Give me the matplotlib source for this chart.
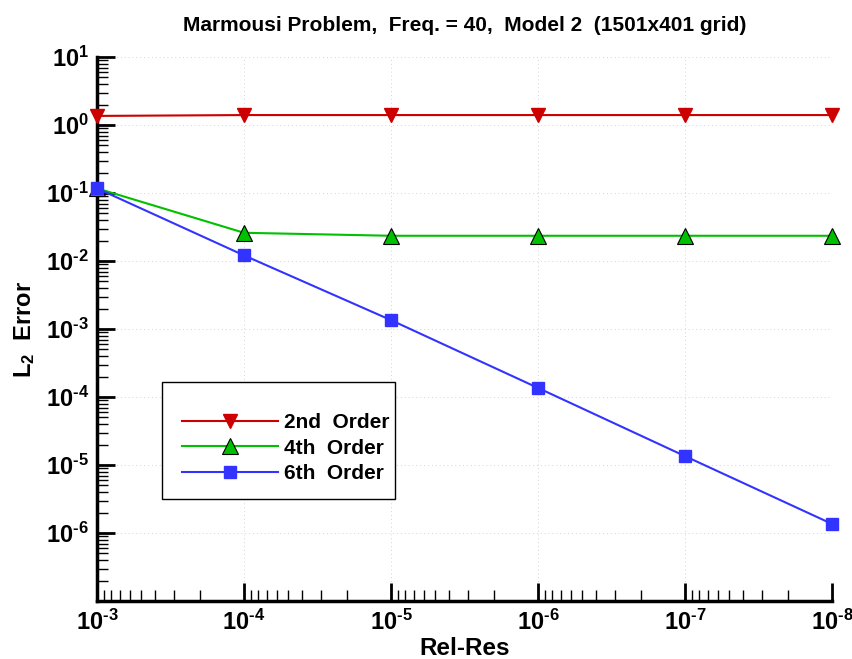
import matplotlib
matplotlib.use('Agg')
import matplotlib.pyplot as plt
import matplotlib.ticker as ticker
from matplotlib.patches import Rectangle
import numpy as np

plt.rcParams['font.family'] = ['Liberation Sans', 'DejaVu Sans']
plt.rcParams['font.weight'] = 'bold'
plt.rcParams['mathtext.fontset'] = 'custom'
plt.rcParams['mathtext.rm'] = 'Liberation Sans:bold'
plt.rcParams['mathtext.it'] = 'Liberation Sans:bold'
plt.rcParams['mathtext.bf'] = 'Liberation Sans:bold'

# Data
rel_res = [1e-3, 1e-4, 1e-5, 1e-6, 1e-7, 1e-8]
err_2nd = [1.36, 1.40, 1.40, 1.40, 1.40, 1.40]
err_4th = [0.117, 0.026, 0.0235, 0.0235, 0.0235, 0.0235]
err_6th = [0.117, 0.0121, 0.00135, 1.36e-4, 1.35e-5, 1.36e-6]
labels = ['2nd  Order', '4th  Order', '6th  Order']

fig = plt.figure(figsize=(8.52, 6.59), dpi=100)
ax = fig.add_axes([97/852, 1 - 601/659, 735/852, 544/659])

ax.plot(rel_res, err_2nd, '-', color='#cc0000', lw=1.5, marker='v', ms=10,
        mfc='#cc0000', mec='#cc0000', label=labels[0], clip_on=False, zorder=3)
ax.plot(rel_res, err_4th, '-', color='#00c000', lw=1.5, marker='^', ms=12,
        mfc='#00c000', mec='black', mew=0.8, label=labels[1], clip_on=False, zorder=3)
ax.plot(rel_res, err_6th, '-', color='#3333ff', lw=1.5, marker='s', ms=9,
        mfc='#3333ff', mec='#3333ff', label=labels[2], clip_on=False, zorder=3)

ax.set_xscale('log')
ax.set_yscale('log')
ax.set_xlim(1e-3, 1e-8)
ax.set_ylim(1e-7, 1e1)

def fmt(v, pos):
    e = int(round(np.log10(v)))
    if e < 0:
        return r'$\mathregular{10^{\text{-}%d}}$' % (-e)
    return r'$\mathregular{10^{%d}}$' % e

def yfmt(v, pos):
    if v < 5e-7:
        return ''
    return fmt(v, pos)

ax.xaxis.set_major_locator(ticker.LogLocator(base=10, numticks=20))
ax.yaxis.set_major_locator(ticker.LogLocator(base=10, numticks=20))
ax.xaxis.set_minor_locator(ticker.LogLocator(base=10, subs=np.arange(2, 10), numticks=20))
ax.yaxis.set_minor_locator(ticker.LogLocator(base=10, subs=np.arange(2, 10), numticks=20))
ax.xaxis.set_major_formatter(ticker.FuncFormatter(fmt))
ax.yaxis.set_major_formatter(ticker.FuncFormatter(yfmt))
ax.xaxis.set_minor_formatter(ticker.NullFormatter())
ax.yaxis.set_minor_formatter(ticker.NullFormatter())

ax.tick_params(which='major', direction='in', length=13, width=2, labelsize=17, pad=6)
ax.tick_params(which='minor', direction='in', length=8, width=1)
ax.tick_params(top=False, right=False)

for s in ['top', 'right']:
    ax.spines[s].set_visible(False)
for s in ['left', 'bottom']:
    ax.spines[s].set_linewidth(2.5)

ax.grid(True, which='major', color='#d4d4d4', lw=0.7, dashes=(1, 3))

ax.set_title('Marmousi Problem,  Freq. = 40,  Model 2  (1501x401 grid)',
             fontsize=15, fontweight='bold', pad=19)
ax.set_xlabel('Rel-Res', fontsize=17.5, fontweight='bold', labelpad=2)
ax.set_ylabel(r'$\mathregular{L_2}$  Error', fontsize=17, fontweight='bold', labelpad=6)

# legend box drawn separately so the padding can be uneven like the original
box = Rectangle((0.0884, 0.1875), 0.317, 0.215, transform=ax.transAxes,
                facecolor='white', edgecolor='black', lw=1.0, zorder=4)
ax.add_patch(box)
leg = ax.legend(loc='upper left', bbox_to_anchor=(0.1156, 0.345), fontsize=15,
                frameon=False, handlelength=4.6, handletextpad=0.3,
                labelspacing=0.3, borderpad=0, borderaxespad=0)
leg.set_zorder(5)

fig.savefig('out.png', dpi=100)
